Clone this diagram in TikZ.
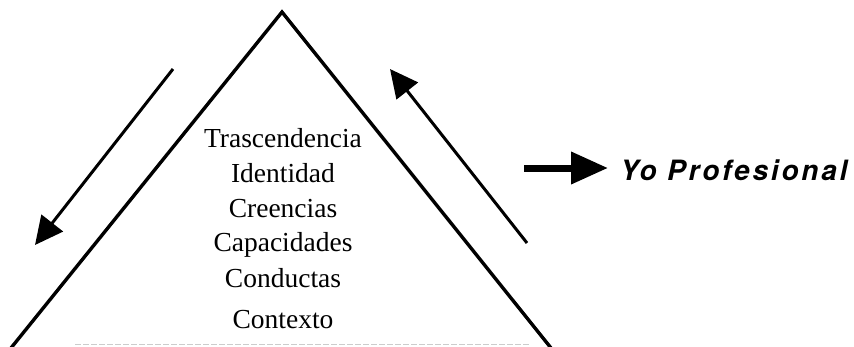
\documentclass[tikz,border=0pt]{standalone}
\usepackage{fontspec}
\setmainfont{Liberation Serif}
\newfontfamily\yofont[LetterSpace=10]{TeX Gyre Heros}
\usetikzlibrary{arrows.meta}
\begin{document}
\begin{tikzpicture}[x=1pt,y=-1pt,
  edge/.style={line width=3.4pt},
  flow/.style={line width=3pt,-{Triangle[length=28pt,width=27pt]}},
  bigflow/.style={line width=7pt,-{Triangle[length=37pt,width=31pt]}},
  level/.style={font=\fontsize{27.5}{31}\selectfont,anchor=base,inner sep=0pt},
  yo/.style={font=\yofont\bfseries\itshape\fontsize{28}{32}\selectfont,anchor=base west,inner sep=0pt}]
\useasboundingbox (0,0) rectangle (854,346);
\coordinate (apex) at (282,12);
\coordinate (bl) at (11,348);
\coordinate (br) at (551,348);
\draw[edge] (bl) -- (apex) -- (br);
\draw[gray!40,line width=1pt,dash pattern=on 6pt off 2pt] (75,344) -- (530,344);
\node[level] (t1) at (283,147) {Trascendencia};
\node[level] (t2) at (283,182) {Identidad};
\node[level] (t3) at (283,217) {Creencias};
\node[level] (t4) at (283,251) {Capacidades};
\node[level] (t5) at (283,287) {Conductas};
\node[level] (t6) at (283,328) {Contexto};
\coordinate (la) at (173,69);
\coordinate (lb) at (35,245);
\draw[flow] (la) -- (lb);
\coordinate (ra) at (527,243);
\coordinate (rb) at (390,69);
\draw[flow] (ra) -- (rb);
\coordinate (ha) at (524,168);
\coordinate (hb) at (608,168);
\draw[bigflow] (ha) -- (hb);
\node[yo] (yo) at (620,180) {Yo Profesional};
\end{tikzpicture}
\end{document}
